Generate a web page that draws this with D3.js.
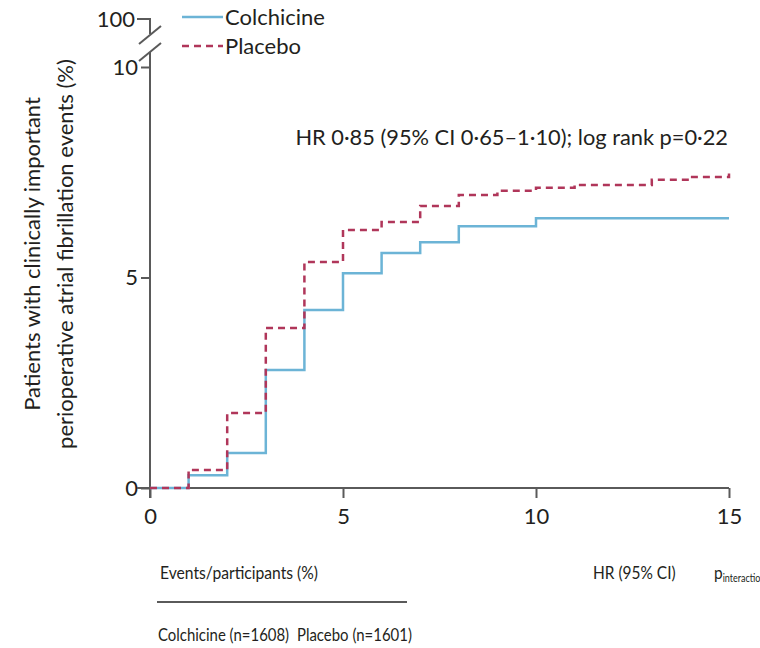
<!DOCTYPE html>
<html>
<head>
<meta charset="utf-8">
<script src="https://cdn.jsdelivr.net/npm/d3@7"></script>
<style>
  html, body { margin: 0; padding: 0; background: #fff; }
  svg { display: block; }
  text { font-family: Lato, "Open Sans", sans-serif; fill: #231f20; }
</style>
</head>
<body>
<svg id="chart" width="760" height="648"></svg>
<script>
// Cumulative incidence (%) of clinically important perioperative AF, by day
const colchicineTimes = [0, 1, 2, 3, 4, 5, 6, 7, 8, 10, 15];
const colchicineRisk  = [0, 0.3, 0.83, 2.8, 4.23, 5.1, 5.58, 5.84, 6.22, 6.41, 6.41];
const placeboTimes = [0, 1, 2, 3, 4, 5, 6, 7, 8, 9, 10, 11, 13, 14, 15];
const placeboRisk  = [0, 0.43, 1.78, 3.8, 5.37, 6.13, 6.32, 6.7, 6.96, 7.06, 7.13, 7.2, 7.32, 7.39, 7.47];

const xTicks = [0, 5, 10, 15];
const yTicks = [0, 5, 10];
const seriesNames = ["Colchicine", "Placebo"];
const hrText = "HR 0·85 (95% CI 0·65–1·10); log rank p=0·22";
const yTitle = ["Patients with clinically important", "perioperative atrial fibrillation events (%)"];
const tableHeaders = ["Events/participants (%)", "HR (95% CI)"];
const tableArms = ["Colchicine (n=1608)", "Placebo (n=1601)"];

const colours = { colchicine: "#6cb4d6", placebo: "#b0365a", axis: "#5a5a5a" };

const svg = d3.select("#chart");
const x = d3.scaleLinear().domain([0, 15]).range([150, 729]);
const y = d3.scaleLinear().domain([0, 10]).range([488, 67]);

// Axes
const xAxis = svg.append("g")
  .attr("transform", `translate(0,${y(0)})`)
  .call(d3.axisBottom(x).tickValues(xTicks).tickSize(10).tickPadding(10).tickSizeOuter(0));
xAxis.select(".domain").remove();
xAxis.selectAll(".tick line").attr("stroke", colours.axis).attr("stroke-width", 2);
xAxis.selectAll(".tick text").style("font-size", "22px").attr("fill", "#231f20");

const yAxis = svg.append("g")
  .attr("transform", `translate(${x(0)},0)`)
  .call(d3.axisLeft(y).tickValues(yTicks).tickSize(9).tickPadding(3));
yAxis.select(".domain").remove();
yAxis.selectAll(".tick line").attr("stroke", colours.axis).attr("stroke-width", 2);
yAxis.selectAll(".tick text").style("font-size", "22px").attr("fill", "#231f20");

// Axis lines
const axisG = svg.append("g").attr("stroke", colours.axis).attr("stroke-width", 2).attr("fill", "none");
axisG.append("line").attr("x1", x(0) - 13).attr("x2", x(15)).attr("y1", y(0)).attr("y2", y(0));
axisG.append("line").attr("x1", x(0)).attr("x2", x(0)).attr("y1", y(0) + 10).attr("y2", 52);

// Broken-axis segment up to 100
const yTop = 19;
axisG.append("path").attr("d", `M${x(0) - 13},${yTop} H${x(0)} V34`);
axisG.append("line").attr("x1", x(0) - 11).attr("y1", 44).attr("x2", x(0) + 11).attr("y2", 26);
axisG.append("line").attr("x1", x(0) - 11).attr("y1", 61).attr("x2", x(0) + 11).attr("y2", 43);
svg.append("text").attr("x", x(0) - 15).attr("y", yTop).attr("dy", "0.35em")
  .attr("text-anchor", "end").style("font-size", "22px").text("100");

// Step curves
const step = d3.line().curve(d3.curveStepAfter).x(d => x(d[0])).y(d => y(d[1]));
const colData = colchicineTimes.map((t, i) => [t, colchicineRisk[i]]);
const plaData = placeboTimes.map((t, i) => [t, placeboRisk[i]]);

svg.append("path").datum(colData).attr("d", step)
  .attr("fill", "none").attr("stroke", colours.colchicine).attr("stroke-width", 2.5);
svg.append("path").datum(plaData).attr("d", step)
  .attr("fill", "none").attr("stroke", colours.placebo).attr("stroke-width", 2.5)
  .attr("stroke-dasharray", "7,5");

// Legend
const legend = svg.append("g");
const legendRows = [
  { name: seriesNames[0], y: 17, colour: colours.colchicine, dash: null },
  { name: seriesNames[1], y: 46, colour: colours.placebo, dash: "7,5" }
];
legendRows.forEach(r => {
  legend.append("line").attr("x1", 182).attr("x2", 223).attr("y1", r.y).attr("y2", r.y)
    .attr("stroke", r.colour).attr("stroke-width", 2.5).attr("stroke-dasharray", r.dash);
  legend.append("text").attr("x", 225).attr("y", r.y).attr("dy", "0.35em")
    .style("font-size", "22px").text(r.name);
});

// Hazard ratio annotation
svg.append("text").attr("x", 728).attr("y", 137).attr("dy", "0.35em")
  .attr("text-anchor", "end").style("font-size", "21.8px").text(hrText);

// Y axis title
const yt = svg.append("text").attr("transform", "translate(0,254) rotate(-90)")
  .attr("text-anchor", "middle").style("font-size", "22px");
yt.append("tspan").attr("x", 0).attr("y", 40).text(yTitle[0]);
yt.append("tspan").attr("x", 0).attr("y", 73).text(yTitle[1]);

// Table header below the plot
const tbl = svg.append("g").style("font-size", "18px");
function condensed(txt, xPos, yPos, sx) {
  return tbl.append("text").attr("transform", `translate(${xPos},${yPos}) scale(${sx},1)`)
    .attr("dy", "0.35em").text(txt);
}
condensed(tableHeaders[0], 160, 573, 0.87);
condensed(tableHeaders[1], 593, 573, 0.86);
const pT = tbl.append("text").attr("transform", "translate(714,573) scale(0.86,1)").attr("dy", "0.35em");
pT.append("tspan").text("p");
pT.append("tspan").attr("dy", "0.3em").style("font-size", "10.5px").text("interaction");
tbl.append("line").attr("x1", 157).attr("x2", 407).attr("y1", 602).attr("y2", 602)
  .attr("stroke", colours.axis).attr("stroke-width", 2);
condensed(tableArms[0], 158, 635, 0.83);
condensed(tableArms[1], 297, 635, 0.83);
</script>
</body>
</html>
